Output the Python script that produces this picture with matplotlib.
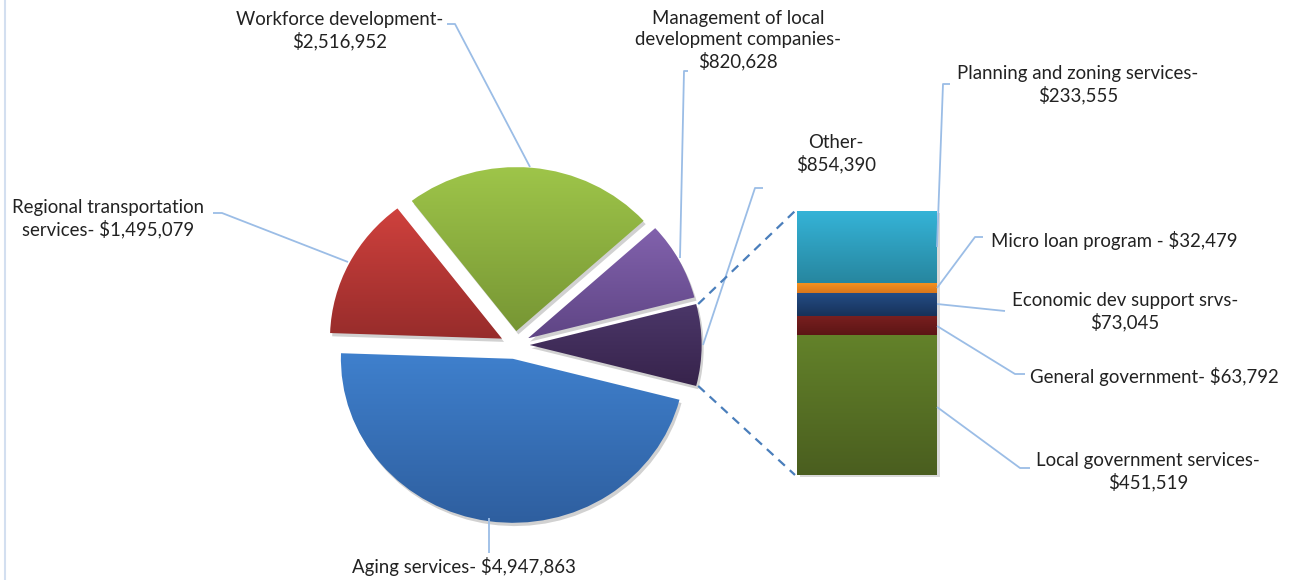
import numpy as np
import matplotlib
matplotlib.use("Agg")
import matplotlib.pyplot as plt
from matplotlib.colors import to_rgb

# ---------------- data ----------------
pie_labels = ["Other", "Management of local development companies",
              "Workforce development", "Regional transportation services",
              "Aging services"]
pie_values = [854390, 820628, 2516952, 1495079, 4947863]
pie_texts = ["Other-\n{}", "Management of local\ndevelopment companies-\n{}",
             "Workforce development-\n{}", "Regional transportation\nservices- {}",
             "Aging services- {}"]

bar_labels = ["Local government services", "General government",
              "Economic dev support srvs", "Micro loan program",
              "Planning and zoning services"]
bar_values = [451519, 63792, 73045, 32479, 233555]
bar_texts = ["Local government services-\n{}", "General government- {}",
             "Economic dev support srvs-\n{}", "Micro loan program - {}",
             "Planning and zoning services-\n{}"]

# ---------------- style ----------------
pie_grad = [("#4b3769", "#37234b"),   # other
            ("#8262ad", "#5f4585"),   # management
            ("#9fc64a", "#779634"),   # workforce
            ("#cf413d", "#972c2b"),   # regional
            ("#3f80cd", "#2e5e9e")]   # aging
bar_grad = [("#63822a", "#4a5e1f"),
            ("#7a2020", "#5c1515"),
            ("#244c85", "#173259"),
            ("#f7941f", "#d9761c"),
            ("#35b4d8", "#27869f")]

W, H = 1294, 580
fig = plt.figure(figsize=(W / 100, H / 100), dpi=100)
fig.patch.set_facecolor("white")

FONT = "Lato"
FS = 13.4
TXT = "#222222"
LEAD = "#9bbde6"


def grad_fill(ax, patch, top, bottom, z):
    verts = patch.get_patch_transform().transform(patch.get_path().vertices)
    x0, y0 = verts.min(axis=0)
    x1, y1 = verts.max(axis=0)
    t = np.linspace(0, 1, 256)[:, None]
    c0, c1 = np.array(to_rgb(top)), np.array(to_rgb(bottom))
    arr = (c0[None, :] * (1 - t) + c1[None, :] * t)[:, None, :]
    im = ax.imshow(arr, extent=(x0, x1, y0, y1), origin="upper",
                   aspect="auto", interpolation="bilinear", zorder=z)
    im.set_clip_path(patch)
    patch.set_facecolor("none")
    patch.set_edgecolor("none")


# ---------------- pie (slightly elliptical, as in reference) ----------------
cx, cy = 515, H - 345
rx, ry = 172, 164
L = 1.35
pax = fig.add_axes([(cx - L * rx) / W, (cy - L * ry) / H,
                    2 * L * rx / W, 2 * L * ry / H])
total = sum(pie_values)
start = -0.5 * pie_values[0] / total * 360
explode = [0.085] * len(pie_values)

# shadow
sh_w, _ = pax.pie(pie_values, explode=explode, startangle=start,
                  counterclock=True, radius=1.0, center=(0.012, -0.02),
                  wedgeprops=dict(facecolor="#000000", alpha=0.18,
                                  edgecolor="none"))
for w in sh_w:
    w.set_zorder(1)
wedges, _ = pax.pie(pie_values, explode=explode, startangle=start,
                    counterclock=True, radius=1.0,
                    wedgeprops=dict(edgecolor="none"))
for w, (a, b) in zip(wedges, pie_grad):
    w.set_zorder(2)
    grad_fill(pax, w, a, b, 2)
pax.set_xlim(-L, L)
pax.set_ylim(-L, L)
pax.set_aspect("auto")
pax.axis("off")

# ---------------- stacked bar ----------------
bx0, bx1, by0, by1 = 797, 937, H - 475, H - 211
bax = fig.add_axes([bx0 / W, by0 / H, (bx1 - bx0) / W, (by1 - by0) / H])
btot = sum(bar_values)
bottoms = np.concatenate([[0], np.cumsum(bar_values)[:-1]])
# shadow
bax.bar([0.02], [btot], width=1.0, bottom=-btot * 0.008, color="#000000",
        alpha=0.15, zorder=1, clip_on=False)
bars = bax.bar(np.zeros(len(bar_values)), bar_values, width=1.0,
               bottom=bottoms, zorder=2)
for r, (a, b) in zip(bars, bar_grad):
    grad_fill(bax, r, a, b, 2)
bax.set_xlim(-0.5, 0.5)
bax.set_ylim(0, btot)
bax.axis("off")

# ---------------- overlay (pixel coords) ----------------
oax = fig.add_axes([0, 0, 1, 1], zorder=5)
oax.set_xlim(0, W)
oax.set_ylim(0, H)
oax.axis("off")
oax.patch.set_alpha(0)


def to_pix(ax, x, y):
    return oax.transData.inverted().transform(ax.transData.transform((x, y)))


# connector (dashed) lines from 'Other' slice to the bar
ow = wedges[0]
ocx, ocy = ow.center
for ang, yb in [(ow.theta2, btot), (ow.theta1, 0)]:
    p = to_pix(pax, ocx + np.cos(np.radians(ang)), ocy + np.sin(np.radians(ang)))
    q = to_pix(bax, -0.5, yb)
    oax.plot([p[0] + 2, q[0] - 2], [p[1], q[1]], color="#4a7ebb", lw=1.6,
             ls=(0, (4, 3)), zorder=4)

fmt = lambda v: "${:,}".format(v)

# label positions (x center, y center from top) and leader lines (top-down px)
pie_pos = [(836, 154), (738, 40.5), (340, 30.5), (108, 219), (464, 567)]
pie_lead = [[(763, 188), (755, 188), (703, 345)],
            [(688, 71), (684, 71), (680, 258)],
            [(447, 24), (455, 24), (530, 167)],
            [(213, 213), (222, 213), (348, 262)],
            [(489, 518), (489, 553)]]
bar_pos = [(1148, 471.5), (1154, 376), (1125, 312), (1114, 240), (1078, 85)]
bar_lead = [[(1030, 468), (1020, 468), (937, 407)],
            [(1025, 374), (1015, 374), (937, 326)],
            [(1005, 311), (937, 304)],
            [(983, 237), (975, 237), (937, 288)],
            [(950, 84), (943, 84), (937, 247)]]

for txt, v, (x, y), lead in list(zip(pie_texts, pie_values, pie_pos, pie_lead)) + \
        list(zip(bar_texts, bar_values, bar_pos, bar_lead)):
    oax.text(x, H - y, txt.format(fmt(v)), ha="center", va="center",
             fontsize=FS, family=FONT, color=TXT, linespacing=1.26,
             multialignment="center")
    xs = [p[0] for p in lead]
    ys = [H - p[1] for p in lead]
    oax.plot(xs, ys, color=LEAD, lw=1.3, zorder=3, solid_capstyle="butt")

# left frame line
oax.plot([5, 5], [0, H], color="#d3dff0", lw=1.5)

fig.savefig("out.png", dpi=100, facecolor="white")
